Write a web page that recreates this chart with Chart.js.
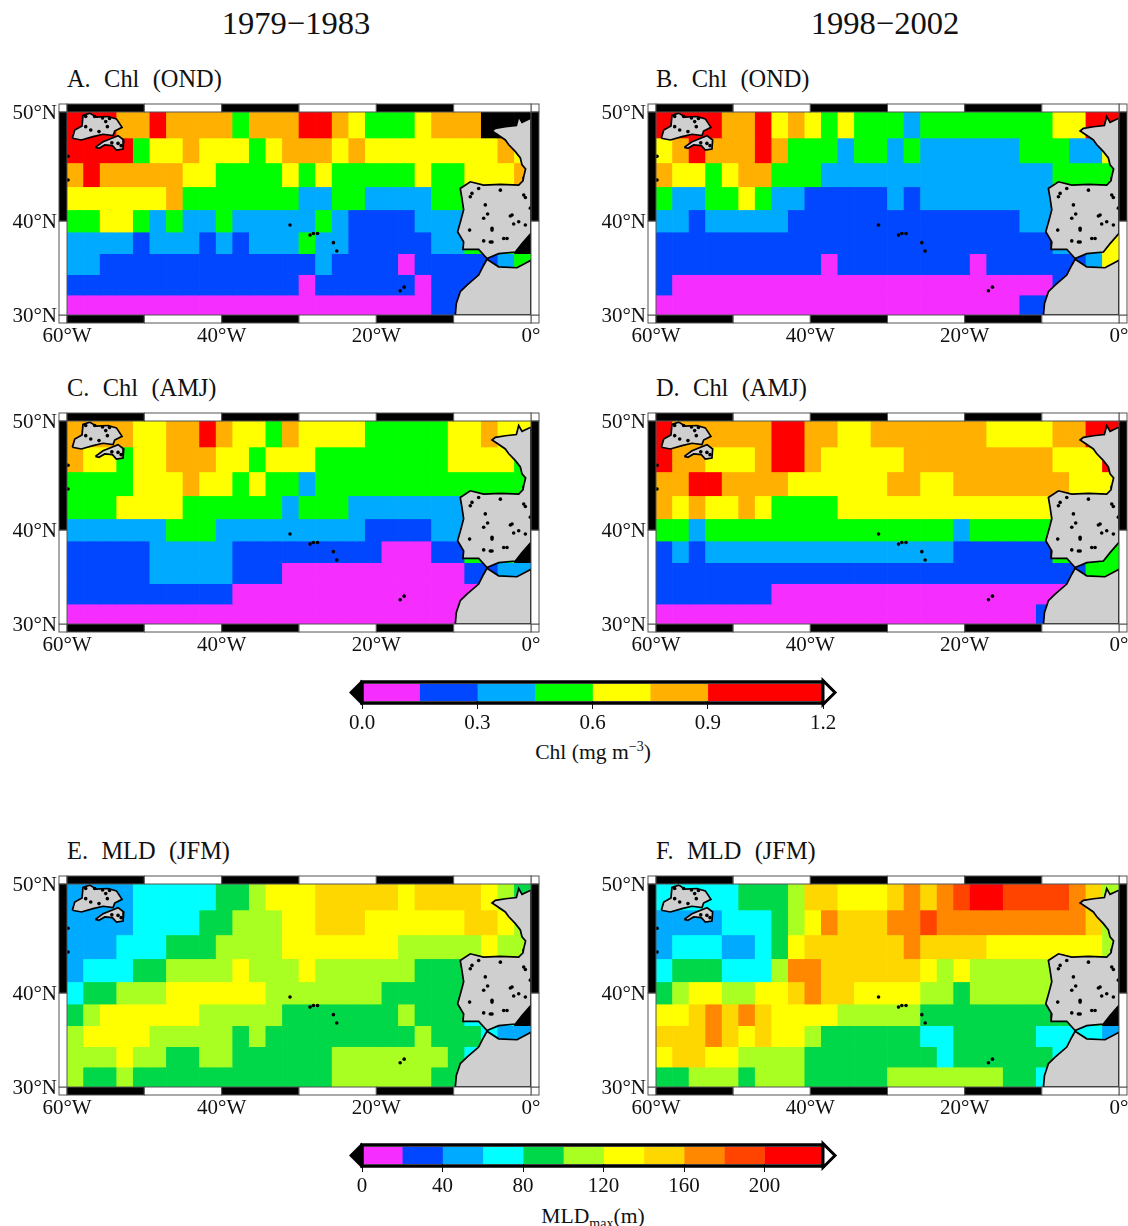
<!DOCTYPE html>
<html>
<head>
<meta charset="utf-8">
<title>Chl and MLD</title>
<script src="https://cdn.jsdelivr.net/npm/chart.js@4"></script>
<style>
  html, body { margin: 0; background: #fff; }
  #page { position: relative; width: 1128px; height: 1226px; overflow: hidden; font-family: "Liberation Serif", serif; color: #111; }
  #page canvas { position: absolute; }
  .txt { position: absolute; white-space: pre; }
  .head { font-size: 32.6px; line-height: 32px; transform: translateX(-50%); }
  .title { font-size: 24.4px; line-height: 24px; word-spacing: 0.6px; }
  .label { font-size: 21.6px; line-height: 24px; transform: translateX(-50%); }
  sup, sub { font-size: 14px; line-height: 0; }
</style>
</head>
<body>
<div id="page">
  <div class="txt head" style="left:296px;top:7px">1979−1983</div>
  <div class="txt head" style="left:885px;top:7px">1998−2002</div>
  <div class="txt title" style="left:67px;top:67px">A.  Chl  (OND)</div>
  <div class="txt title" style="left:656px;top:67px">B.  Chl  (OND)</div>
  <div class="txt title" style="left:67px;top:376px">C.  Chl  (AMJ)</div>
  <div class="txt title" style="left:656px;top:376px">D.  Chl  (AMJ)</div>
  <div class="txt title" style="left:67px;top:839px">E.  MLD  (JFM)</div>
  <div class="txt title" style="left:656px;top:839px">F.  MLD  (JFM)</div>
  <div class="txt label" style="left:593px;top:740px">Chl (mg m<sup>−3</sup>)</div>
  <div class="txt label" style="left:593px;top:1204px">MLD<sub>max</sub>(m)</div>
</div>
<script>
// grid cells, north to south, one letter per cell (spaces only group runs)
// chl levels m b c g y o r, mld levels 2..9 A, k = no data (black)
const panelA = [
  "rrr oo r oooo g ooo rr o y ggg y ooo kkk",
  "rrrr g yy o yyy g y ooo y o yyyyyyyy o y",
  "o r ooooo yy gggg y g y ggggg y gg yyy o",
  "yyyyyy o ggggggg cc gg cccc gg cccc",
  "gg yy g c g cc g ccccc g c bbbb ccc cccc",
  "cccc b ccc b c b ccc g cc bbbbb cc ggg k",
  "cc bbbbbbbbbbbbb c bbbb m bbbbb c g",
  "bbbbbbbbbbbbbb m bbbbbb m bbbbbb",
  "mmmmmmmmmmmmmmmmmmmmmm bbbbbb"
];
const panelB = [
  "rrrr oo r y o y g y ggg c gggggggg yy rr",
  "y o r ooo r o ggg c gg c g cccccc ggg cc y",
  "o yy g y oo ggg cccccccccccccc gggg",
  "g cc gg y g cc bbbbb c b cccccccc cccc",
  "cc b ccccc bbbbbbbbbbbbbb cc cccc",
  "bbbbbbbbbbbbbbbbbbbbbbbb ccc y",
  "bbbbbbbbbb m bbbbbbbb m bbbbbb c y",
  "b mmmmmmmmmmmmmmmmmmmmmmm bbbb",
  "mmmmmmmmmmmmmmmmmmmmmm bbbbbb"
];
const panelC = [
  "oooo yy oo r o yy g o yyyy ggggg yy o yy",
  "o yy g yy ooo yy g yyy gggggggg yyyy g",
  "gggg yyy o yy g y gg c ggggggggggggg",
  "ggg yyyy gggggg c ggg ccccccc cccc",
  "cccccc ggg ccccccccc bbbb cc cccc",
  "bbbbb ccccc bbbbbbbbb mmm bb ggg k",
  "bbbbb ccccc bbb mmmmmmmmmmm bb cc",
  "bbbbbbbbbb mmmmmmmmmmmmmmmmmm",
  "mmmmmmmmmmmmmmmmmmmmmmmmmmmm"
];
const panelD = [
  "r oooooo rr oo yy ooooooo yyyy oo rr",
  "r oo yyy o rr o yyyyy ooooooooo yyy r",
  "oo rr oooo yyyyyy oo yy ooooooo yyy",
  "o y o yy o y gggg yyyyyyyyyyyyy yyyy",
  "gg c ggggggggggggggg c ggggg gggg",
  "b c b ccccccccccccccc bbbbbb gggg",
  "bbbbbbbbbbbbbbbbbbbbbbbbbb gg",
  "bbbbbbb mmmmmmmmmmmmmmmmmmmmm",
  "mmmmmmmmmmmmmmmmmmmmmmm bbbbb"
];
const panelE = [
  "2222 33333 44 5 666 77777 6 7777 6 5 4",
  "2222 3333 44 555 66 777 666666 77 6 5",
  "222 333 444 5555 6666666 55555 6 55",
  "2 333 44 5555 6 555 6 555555 444 4444",
  "3 44 555 666666 5555555 44444 4444",
  "4 5 666666 55555 4444444 5 444 333 k",
  "5 6666 55555 4 5 444444444 5 444 3 22",
  "555 6 55 44 55 444444 5555555 4 3 333",
  "5 44 5 444444444444 555555 44 4444"
];
const panelF = [
  "33333 444 5 77 666 7 8 7 8 9 AA 9999 8 7 5",
  "2222 333 4 5 6 8 777 88 9 888888888 7 5",
  "2 333 22 3 4 6 777777 8 7777 6666666 5",
  "3 444 333 5 88 777777 6 5 6 55555 5555",
  "4 5 66 55 66 7 8 77 6666 55 4 55555 5555",
  "66 7 8 7 8 7 6666 55555 44444444 444 k",
  "777 8 7 6 7 66 5 444444 33 44444 33 33 2",
  "6 77 66 5555 44444444 3 444444 3333",
  "44 555 4 555 44444 5555555 44 3 3333"
];

const chlEdges = [0, 0.15, 0.3, 0.45, 0.6, 0.75, 0.9, 1.2];
const chlLevels = ["m", "b", "c", "g", "y", "o", "r"];
const chlTicks = [0, 0.3, 0.6, 0.9, 1.2];
const mldEdges = [0, 20, 40, 60, 80, 100, 120, 140, 160, 180, 200, 229];
const mldLevels = ["0", "1", "2", "3", "4", "5", "6", "7", "8", "9", "A"];
const mldTicks = [0, 40, 80, 120, 160, 200];

const lonTicks = [-60, -40, -20, 0];
const latTicks = [30, 40, 50];
const gridRows = 9;
const gridCols = 28;

// coastlines, lon / lat
const iberiaLon = [0, -1.16, -1.59, -1.89, -3.3, -4.61, -5.04, -4.4, -3.32, -2.9, -2.02, -1.38, -1.16, -0.7, -0.94, -1.03, -1.59, -3.96, -6.12, -7.85, -9.15, -8.93, -8.71, -9.06, -9.49, -8.71, -8.8, -6.77, -5.69, -4.18, -2.02, -1.16, 0, 0];
const iberiaLat = [49.48, 49.13, 49.62, 48.85, 48.75, 48.61, 48.38, 48.1, 47.6, 47.2, 46.57, 46.0, 45.37, 45.0, 44.28, 43.9, 43.49, 43.55, 43.49, 43.8, 43.17, 42.22, 41.11, 40.1, 38.92, 37.88, 37.12, 37.12, 36.15, 36.67, 36.84, 37.71, 38.75, 49.48];
const africaLon = [-5.69, -4.18, -1.81, 0, 0, -9.79, -9.66, -9.15, -8.28, -6.77, -6.12, -5.69];
const africaLat = [36.08, 35.28, 35.18, 35.98, 30, 30, 31.28, 32.6, 33.31, 34.4, 35.45, 36.08];
const newfLon = [-59.31, -59, -58.06, -57.93, -57.06, -56.2, -54.69, -53.61, -52.88, -53.83, -54.04, -55.34, -56.63, -58.14, -59.31];
const newfLat = [47.75, 48.47, 48.82, 49.71, 49.91, 49.57, 49.62, 49.42, 48.7, 48.38, 47.98, 48.1, 47.89, 47.6, 47.75];
const scotiaLon = [-56.33, -55.34, -53.39, -52.66, -52.75, -53.61, -54.13, -55.12, -55.86, -56.33];
const scotiaLat = [46.95, 47.45, 47.98, 47.6, 46.8, 46.71, 47.1, 47.16, 46.86, 46.95];
// islands and inland water
const speckLon = [-31.16, -28.57, -28.14, -27.6, -25.55, -25.12, -16.92, -16.4, -7.63, -5.91, -2.45, -6.12, -5.04, -1.59, -0.73, -5.26, -3.53, -6.77, -3.96, -0.94, -7.94, -7.85, -2.67, -5.04, -2.24, -5.61, -6.12, -5.04, -3.1, -0.73, -0.08, -59.87, -59.87, -57.58, -56.42, -54.99, -56.93, -55.86, -54.78, -57.58, -54.5, -55.4, -54.2, -53.4, -53];
const speckLat = [39.6, 38.58, 38.75, 38.75, 37.81, 36.95, 32.7, 33.09, 42.7, 41.59, 40.6, 40.27, 39.09, 39.93, 39.6, 37.88, 38.23, 43.17, 43.01, 42.54, 39.09, 42.38, 40.5, 39.26, 39.7, 40.7, 37.99, 37.88, 38.23, 42.3, 41.27, 46.15, 43.97, 49.62, 49.62, 49.19, 48.47, 48.33, 48.76, 48.76, 49.45, 49.5, 47.35, 47.3, 47.1];

const chlColors = { m: "#f52dff", b: "#0047ff", c: "#00aaff", g: "#00ff00", y: "#ffff00", o: "#ffb000", r: "#ff0000", k: "#000000" };
const mldColors = { 0: "#f52dff", 1: "#0047ff", 2: "#00aaff", 3: "#00ffff", 4: "#00d84a", 5: "#aaff22", 6: "#ffff00", 7: "#ffd700", 8: "#ff8800", 9: "#ff4400", A: "#ff0000", k: "#000000" };

const serif = "'Liberation Serif', serif";
const merc = lat => Math.log(Math.tan(Math.PI / 4 + lat * Math.PI / 360));

// the checkered GMT style border round a map
const framePlugin = {
  id: "mapFrame",
  afterDraw(chart) {
    const { ctx, chartArea: a, scales: { x, y } } = chart;
    const w = 8;
    ctx.save();
    ctx.fillStyle = "#fff";
    ctx.strokeStyle = "#555";
    ctx.lineWidth = 1;
    [[a.left - w, a.top - w, w, w], [a.right, a.top - w, w, w], [a.left - w, a.bottom, w, w], [a.right, a.bottom, w, w]].forEach(r => {
      ctx.fillRect(...r);
      ctx.strokeRect(...r);
    });
    for (let lon = -60, i = 0; lon < 0; lon += 10, i++) {
      const x0 = x.getPixelForValue(lon), x1 = x.getPixelForValue(lon + 10);
      ctx.fillStyle = i % 2 ? "#fff" : "#000";
      [a.top - w, a.bottom].forEach(t => {
        ctx.fillRect(x0, t, x1 - x0, w);
        ctx.strokeRect(x0, t, x1 - x0, w);
      });
    }
    [[30, 40, "#fff"], [40, 50, "#000"]].forEach(([lo, hi, col]) => {
      const y0 = y.getPixelForValue(merc(hi)), y1 = y.getPixelForValue(merc(lo));
      ctx.fillStyle = col;
      [a.left - w, a.right].forEach(l => {
        ctx.fillRect(l, y0, w, y1 - y0);
        ctx.strokeRect(l, y0, w, y1 - y0);
      });
    });
    ctx.restore();
  }
};

// heavy outline and end triangles of a colour bar
const barFramePlugin = {
  id: "barFrame",
  afterDraw(chart) {
    const { ctx, chartArea: a } = chart;
    const cy = (a.top + a.bottom) / 2;
    ctx.save();
    ctx.strokeStyle = "#000";
    ctx.lineWidth = 3.5;
    ctx.strokeRect(a.left, a.top - 2, a.right - a.left, a.bottom - a.top + 4);
    ctx.fillStyle = "#000";
    ctx.beginPath();
    ctx.moveTo(a.left, cy - 13);
    ctx.lineTo(a.left - 13, cy);
    ctx.lineTo(a.left, cy + 13);
    ctx.closePath();
    ctx.fill();
    ctx.fillStyle = "#fff";
    ctx.lineWidth = 3;
    ctx.beginPath();
    ctx.moveTo(a.right, cy - 12);
    ctx.lineTo(a.right + 12, cy);
    ctx.lineTo(a.right, cy + 12);
    ctx.closePath();
    ctx.fill();
    ctx.stroke();
    ctx.restore();
  }
};

function addCanvas(left, top, width, height) {
  const c = document.createElement("canvas");
  c.width = width;
  c.height = height;
  c.style.left = left + "px";
  c.style.top = top + "px";
  c.style.width = width + "px";
  c.style.height = height + "px";
  document.getElementById("page").appendChild(c);
  return c.getContext("2d");
}

function coast(lons, lats) {
  return {
    type: "scatter",
    showLine: true,
    fill: "shape",
    order: 1,
    data: lons.map((lon, i) => ({ x: lon, y: merc(lats[i]) })),
    borderColor: "#000",
    borderWidth: 1.7,
    backgroundColor: "#cfcfcf",
    pointRadius: 0,
    tension: 0
  };
}

function mapPanel(rows, colors, left, top, axisWidth) {
  const dLon = 60 / gridCols, dLat = 20 / gridRows;
  const cells = rows.map((row, r) => {
    const codes = row.replace(/ /g, "");
    const hi = 50 - r * dLat;
    return {
      type: "bar",
      order: 3,
      grouped: false,
      barPercentage: 1,
      categoryPercentage: 1,
      borderWidth: 0,
      data: codes.split("").map((c, i) => ({ x: -60 + (i + 0.5) * dLon, y: [merc(hi - dLat), merc(hi)] })),
      backgroundColor: codes.split("").map(c => colors[c])
    };
  });
  const specks = {
    type: "scatter",
    order: 0,
    data: speckLon.map((lon, i) => ({ x: lon, y: merc(speckLat[i]) })),
    backgroundColor: "#000",
    pointRadius: 1.8,
    pointBorderWidth: 0
  };
  new Chart(addCanvas(left, top, 560, 283), {
    data: { datasets: [...cells, coast(iberiaLon, iberiaLat), coast(africaLon, africaLat), coast(newfLon, newfLat), coast(scotiaLon, scotiaLat), specks] },
    plugins: [framePlugin],
    options: {
      responsive: false,
      animation: false,
      events: [],
      devicePixelRatio: 1,
      layout: { padding: { top: 30, right: 29 } },
      plugins: { legend: { display: false }, tooltip: { enabled: false } },
      scales: {
        x: {
          type: "linear",
          min: -60,
          max: 0,
          offset: false,
          grid: { display: false },
          border: { display: false },
          afterBuildTicks: s => { s.ticks = lonTicks.map(v => ({ value: v })); },
          afterFit: s => { s.height = 50; },
          ticks: {
            autoSkip: false,
            maxRotation: 0,
            padding: 1,
            color: "#111",
            font: { family: serif, size: 21 },
            callback: v => (v === 0 ? "0°" : -v + "°W")
          }
        },
        y: {
          type: "linear",
          min: merc(30),
          max: merc(50),
          grid: { display: false },
          border: { display: false },
          afterBuildTicks: s => { s.ticks = latTicks.map(v => ({ value: merc(v) })); },
          afterFit: s => { s.width = axisWidth; },
          ticks: {
            autoSkip: false,
            padding: 2,
            labelOffset: 1,
            color: "#111",
            font: { family: serif, size: 21 },
            callback: (v, i) => latTicks[i] + "°N"
          }
        }
      }
    }
  });
}

function colorBar(edges, levels, colors, ticks, maxVal, top, fmt) {
  const sets = levels.map((lev, i) => ({
    grouped: false,
    barPercentage: 1,
    categoryPercentage: 1,
    borderWidth: 0,
    data: [[edges[i], edges[i + 1]]],
    backgroundColor: colors[lev]
  }));
  new Chart(addCanvas(340, top, 520, 70), {
    type: "bar",
    data: { labels: [""], datasets: sets },
    plugins: [barFramePlugin],
    options: {
      indexAxis: "y",
      responsive: false,
      animation: false,
      events: [],
      devicePixelRatio: 1,
      layout: { padding: { top: 14, left: 22, right: 37 } },
      plugins: { legend: { display: false }, tooltip: { enabled: false } },
      scales: {
        y: { display: false },
        x: {
          type: "linear",
          min: 0,
          max: maxVal,
          grid: { drawOnChartArea: false, drawTicks: true, tickLength: 8, color: "#111", lineWidth: 1 },
          border: { display: false },
          afterBuildTicks: s => { s.ticks = ticks.map(v => ({ value: v })); },
          afterFit: s => { s.height = 39; },
          ticks: {
            autoSkip: false,
            maxRotation: 0,
            padding: 2,
            color: "#111",
            font: { family: serif, size: 21 },
            callback: fmt
          }
        }
      }
    }
  });
}

document.addEventListener("DOMContentLoaded", function() {
  mapPanel(panelA, chlColors, 0, 82, 67);
  mapPanel(panelB, chlColors, 588, 82, 68);
  mapPanel(panelC, chlColors, 0, 391, 67);
  mapPanel(panelD, chlColors, 588, 391, 68);
  mapPanel(panelE, mldColors, 0, 854, 67);
  mapPanel(panelF, mldColors, 588, 854, 68);
  colorBar(chlEdges, chlLevels, chlColors, chlTicks, 1.2, 670, v => v.toFixed(1));
  colorBar(mldEdges, mldLevels, mldColors, mldTicks, 229, 1133, v => String(v));
});
</script>
</body>
</html>
